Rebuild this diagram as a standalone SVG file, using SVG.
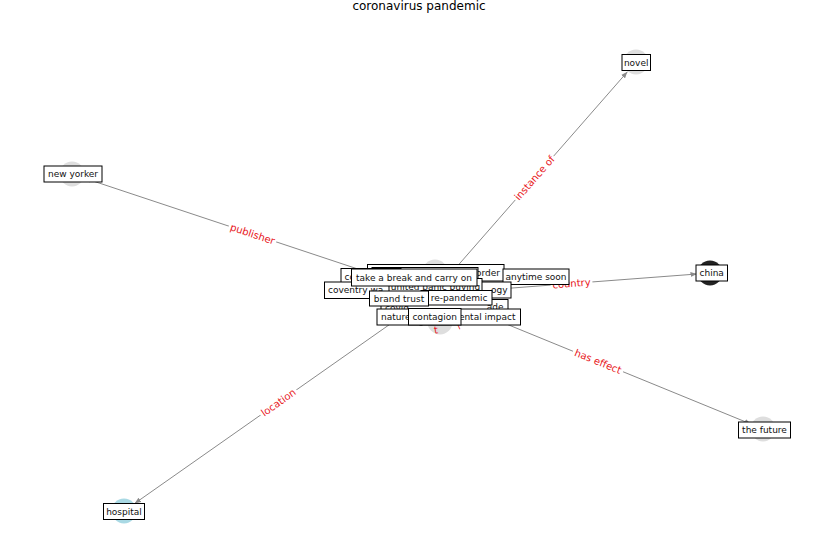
<svg xmlns="http://www.w3.org/2000/svg" width="837" height="559" viewBox="0 0 837 559">
  <style>
    .edge { stroke: #8a8a8a; stroke-width: 1; fill: none; }
    .elabel-bg { fill: #ffffff; stroke: none; }
    .elabel { font-family: "DejaVu Sans", sans-serif; font-size: 10px; fill: #e8161b; text-anchor: middle; dominant-baseline: central; }
    .node { fill: #dedede; }
    .box { fill: #ffffff; stroke: #000000; stroke-width: 1; }
    .nlabel { font-family: "DejaVu Sans", sans-serif; font-size: 9px; fill: #111111; dominant-baseline: central; }
    .title { font-family: "DejaVu Sans", sans-serif; font-size: 12px; fill: #000000; text-anchor: middle; }
  </style>
  <defs>
    <marker id="arrow" markerUnits="userSpaceOnUse" markerWidth="7" markerHeight="6" refX="6.5" refY="3" orient="auto">
      <path d="M0,0.5 L6.5,3 L0,5.5 z" fill="#8a8a8a"/>
    </marker>
  </defs>

  <rect width="837" height="559" fill="#ffffff"/>
  <text class="title" x="419" y="10">coronavirus pandemic</text>

  <!-- node discs -->
  <g id="discs">
    <circle class="node" cx="72" cy="174" r="12.5"/>
    <circle class="node" cx="636" cy="62" r="12.5"/>
    <circle cx="710" cy="273" r="12.5" fill="#222222"/>
    <circle class="node" cx="763" cy="429" r="12.5"/>
    <circle cx="124" cy="511" r="12.5" fill="#a9d9e4"/>
    <circle class="node" cx="435" cy="272" r="12.5"/>
    <circle class="node" cx="440" cy="322" r="12.5"/>
  </g>

  <!-- connectors -->
  <g id="connectors">
    <line class="edge" x1="433" y1="294" x2="84.3" y2="178.1" marker-end="url(#arrow)"/>
    <line class="edge" x1="433" y1="294" x2="627.4" y2="71.8" marker-end="url(#arrow)"/>
    <line class="edge" x1="433" y1="294" x2="697" y2="274" marker-end="url(#arrow)"/>
    <line class="edge" x1="433" y1="294" x2="751" y2="424.1" marker-end="url(#arrow)"/>
    <line class="edge" x1="433" y1="294" x2="134.6" y2="503.5" marker-end="url(#arrow)"/>

    <g transform="translate(252.5,234) rotate(18.4)">
      <rect class="elabel-bg" x="-25" y="-6.5" width="50" height="13" rx="3"/>
      <text class="elabel" x="0" y="0">publisher</text>
    </g>
    <g transform="translate(534.5,178) rotate(-48.8)">
      <rect class="elabel-bg" x="-29" y="-6.5" width="58" height="13" rx="3"/>
      <text class="elabel" x="0" y="0">instance of</text>
    </g>
    <g transform="translate(571.5,283.5) rotate(-4.3)">
      <rect class="elabel-bg" x="-21" y="-6.5" width="42" height="13" rx="3"/>
      <text class="elabel" x="0" y="0">country</text>
    </g>
    <g transform="translate(598,361.5) rotate(22.2)">
      <rect class="elabel-bg" x="-27" y="-6.5" width="54" height="13" rx="3"/>
      <text class="elabel" x="0" y="0">has effect</text>
    </g>
    <g transform="translate(278.5,402.5) rotate(-35.1)">
      <rect class="elabel-bg" x="-22" y="-6.5" width="44" height="13" rx="3"/>
      <text class="elabel" x="0" y="0">location</text>
    </g>
    <text class="elabel" x="436" y="330" transform="rotate(-8 436 330)">t</text>
    <text class="elabel" x="458" y="325" transform="rotate(-40 458 325)">/</text>
  </g>

  <!-- outer nodes -->
  <g id="novel">
    <rect class="box" x="622" y="54.5" width="28.5" height="16"/>
    <text class="nlabel" x="636.2" y="62.5" text-anchor="middle">novel</text>
  </g>
  <g id="new-yorker">
    <rect class="box" x="44" y="166" width="58" height="16"/>
    <text class="nlabel" x="73" y="174" text-anchor="middle">new yorker</text>
  </g>
  <g id="china">
    <rect class="box" x="696" y="265" width="31.5" height="16"/>
    <text class="nlabel" x="711.7" y="273" text-anchor="middle">china</text>
  </g>
  <g id="the-future">
    <rect class="box" x="738.5" y="422" width="52" height="16"/>
    <text class="nlabel" x="764.5" y="430" text-anchor="middle">the future</text>
  </g>
  <g id="hospital">
    <rect class="box" x="103.5" y="503.5" width="41" height="16"/>
    <text class="nlabel" x="124" y="511.5" text-anchor="middle">hospital</text>
  </g>

  <!-- central cluster, back to front -->
  <g id="node-order">
    <rect class="box" x="367.5" y="264.5" width="136.5" height="16.5"/>
    <text class="nlabel" x="500" y="272.5" text-anchor="end">order</text>
  </g>
  <g id="node-hidden">
    <rect class="box" x="372" y="267.5" width="106" height="16"/>
  </g>
  <g id="node-co">
    <rect class="box" x="341" y="268.5" width="60" height="16"/>
    <text class="nlabel" x="344.5" y="276.5">co</text>
  </g>
  <g id="node-anytime-soon">
    <rect class="box" x="503" y="269" width="66" height="15.5"/>
    <text class="nlabel" x="536" y="277" text-anchor="middle">anytime soon</text>
  </g>
  <g id="node-ogy">
    <rect class="box" x="450" y="282" width="61" height="16"/>
    <text class="nlabel" x="507.5" y="290" text-anchor="end">ogy</text>
  </g>
  <g id="node-coventry">
    <rect class="box" x="324.5" y="282" width="70" height="16.5"/>
    <text class="nlabel" x="328" y="289.5">coventry wa</text>
  </g>
  <g id="node-united-panic-buying">
    <rect class="box" x="389" y="278.5" width="93" height="16"/>
    <text class="nlabel" x="435.5" y="287" text-anchor="middle">united panic buying</text>
  </g>
  <g id="node-take-a-break">
    <rect class="box" x="351.5" y="269" width="125.5" height="17"/>
    <text class="nlabel" x="414" y="277.5" text-anchor="middle">take a break and carry on</text>
  </g>
  <g id="node-covid">
    <rect class="box" x="381" y="299.5" width="127" height="15"/>
    <text class="nlabel" x="385" y="307.5">covid</text>
    <text class="nlabel" x="503.5" y="307" text-anchor="end">ade</text>
  </g>
  <g id="node-pre-pandemic">
    <rect class="box" x="421" y="290.5" width="71" height="14.5"/>
    <text class="nlabel" x="487.5" y="297.5" text-anchor="end">re-pandemic</text>
  </g>
  <g id="node-brand-trust">
    <rect class="box" x="369.5" y="291" width="59" height="15"/>
    <text class="nlabel" x="399" y="298.5" text-anchor="middle">brand trust</text>
  </g>
  <g id="node-nature">
    <rect class="box" x="377" y="309" width="45" height="16"/>
    <text class="nlabel" x="381" y="317">nature</text>
  </g>
  <g id="node-environmental-impact">
    <rect class="box" x="420" y="309" width="100.5" height="16"/>
    <text class="nlabel" x="515.5" y="317" text-anchor="end">ental impact</text>
  </g>
  <g id="node-contagion">
    <rect class="box" x="408.5" y="308.5" width="52.5" height="16.5"/>
    <text class="nlabel" x="434.75" y="317" text-anchor="middle">contagion</text>
  </g>
</svg>
